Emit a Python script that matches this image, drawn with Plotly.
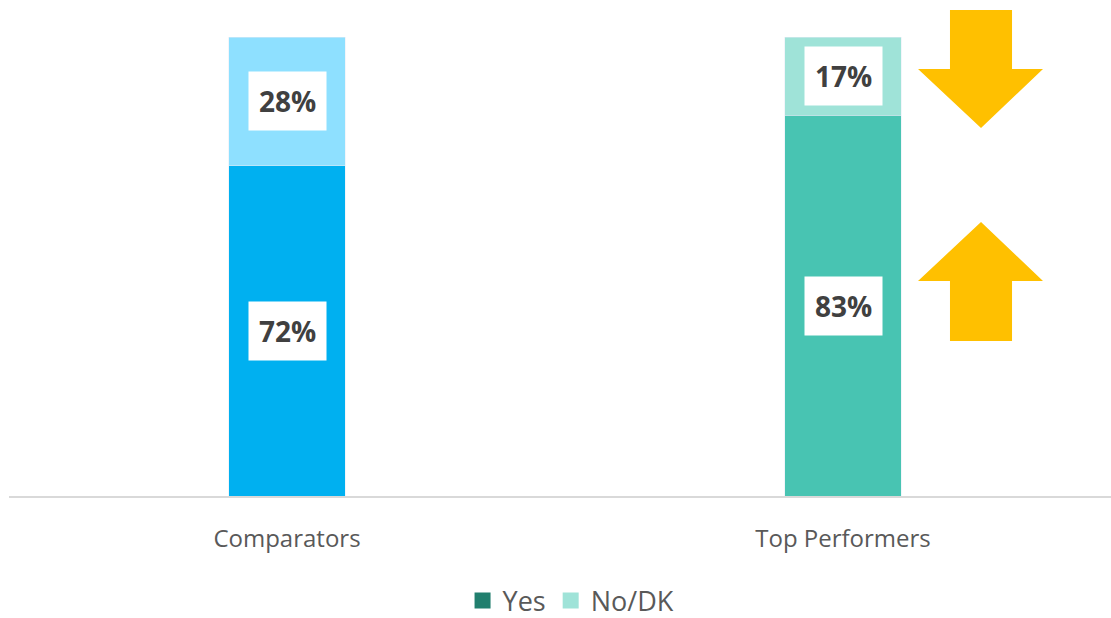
import plotly.graph_objects as go

# Survey share by group
groups = ["Comparators", "Top Performers"]
yes_pct = [72, 83]
no_dk_pct = [28, 17]

yes_colors = ["#00B0F0", "#48C4B2"]
no_dk_colors = ["#8EE0FF", "#9FE3D8"]
legend_colors = {"Yes": "#217F6E", "No/DK": "#9FE3D8"}

fig = go.Figure()
fig.add_trace(go.Bar(x=groups, y=yes_pct, name="Yes", marker_color=yes_colors,
                     width=0.209, showlegend=False))
fig.add_trace(go.Bar(x=groups, y=no_dk_pct, name="No/DK", marker_color=no_dk_colors,
                     width=0.209, showlegend=False))

# legend entries
for name, col in legend_colors.items():
    fig.add_trace(go.Scatter(x=[None], y=[None], mode="markers", name=name,
                             marker=dict(symbol="square", size=20, color=col)))

# value labels in white boxes, centred on each segment
label_font = dict(family="Open Sans, DejaVu Sans", size=28, color="#404040")
for g, yv, nv in zip(groups, yes_pct, no_dk_pct):
    for val, mid in ((yv, yv / 2), (nv, yv + nv / 2)):
        fig.add_annotation(x=g, y=mid, text=f"<b>{val}%</b>", showarrow=False,
                           bgcolor="white", borderpad=10, font=label_font)

# change arrows next to the Top Performers bar (pixel geometry converted to axis units)
def px_to_data(px, py):
    return ((px - 287) / 556, (496 - py) / 459 * 100)

down_arrow = [(950, 10), (1012, 10), (1012, 69), (1043, 69), (981, 128), (918, 69), (950, 69)]
up_arrow = [(981, 222), (1043, 281), (1012, 281), (1012, 341), (950, 341), (950, 281), (918, 281)]
for poly in (down_arrow, up_arrow):
    pts = [px_to_data(*p) for p in poly]
    path = "M " + " L ".join(f"{x:.4f},{y:.3f}" for x, y in pts) + " Z"
    fig.add_shape(type="path", path=path, xref="x", yref="y",
                  fillcolor="#FFC000", line=dict(width=0), layer="above")

fig.update_layout(
    barmode="stack",
    width=1111, height=618,
    margin=dict(l=9, r=0, t=0, b=122, autoexpand=False),
    paper_bgcolor="white", plot_bgcolor="white",
    font=dict(family="Open Sans, DejaVu Sans", color="#595959"),
    legend=dict(orientation="h", traceorder="normal",
                x=0.514, xanchor="center", xref="container",
                y=(618 - 601) / 618, yanchor="middle", yref="container",
                font=dict(size=27, color="#595959"), itemwidth=30),
    xaxis=dict(range=[-0.5, 1.482], showgrid=False, showline=True, linecolor="#D9D9D9",
               linewidth=2, ticks="", tickfont=dict(size=24, color="#595959"),
               ticklabelstandoff=20, automargin=False, fixedrange=True),
    yaxis=dict(range=[0, 108.06], visible=False, fixedrange=True),
)

fig.write_html("out.html")
